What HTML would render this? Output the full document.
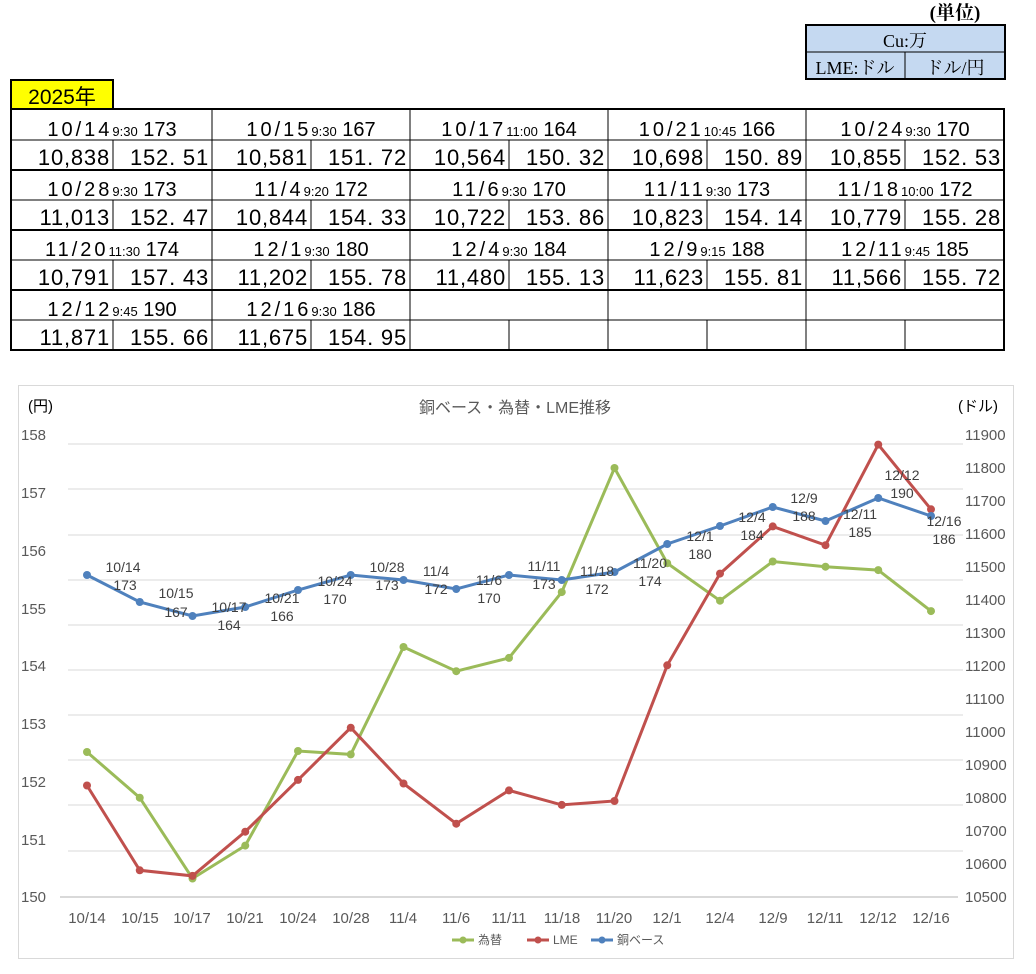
<!DOCTYPE html>
<html><head><meta charset="utf-8"><style>
body{margin:0;background:#fff;width:1036px;height:974px;overflow:hidden;position:relative;font-family:"Liberation Sans","Noto Sans CJK JP",sans-serif}
</style></head><body>
<svg width="1036" height="974" style="position:absolute;left:0;top:0" font-family="Liberation Sans, Noto Sans CJK JP, sans-serif">
<text x="955" y="19" font-size="19" text-anchor="middle" font-family="Liberation Serif, Noto Serif CJK JP, serif" font-weight="bold">(単位)</text>
<rect x="806" y="25" width="199" height="54" fill="#c5d9f1" stroke="#000" stroke-width="2"/>
<line x1="806" y1="52" x2="1005" y2="52" stroke="#000"/>
<line x1="905" y1="52" x2="905" y2="79" stroke="#000"/>
<g font-family="Liberation Serif, Noto Serif CJK JP, serif" font-size="18" text-anchor="middle">
<text x="905" y="47">Cu:万</text><text x="855" y="74">LME:ドル</text><text x="955" y="74">ドル/円</text></g>
<rect x="11" y="80" width="102" height="29" fill="#ffff00" stroke="#000" stroke-width="2"/>
<text x="62" y="104" font-size="21" text-anchor="middle">2025年</text>
<rect x="11" y="109" width="993" height="241" fill="none" stroke="#000" stroke-width="2"/>
<g stroke="#000">
<line x1="11" y1="140" x2="1004" y2="140"/><line x1="11" y1="170" x2="1004" y2="170" stroke-width="2"/>
<line x1="11" y1="200" x2="1004" y2="200"/><line x1="11" y1="230" x2="1004" y2="230" stroke-width="2"/>
<line x1="11" y1="260" x2="1004" y2="260"/><line x1="11" y1="290" x2="1004" y2="290" stroke-width="2"/>
<line x1="11" y1="320" x2="1004" y2="320"/>
<line x1="212" y1="109" x2="212" y2="350"/><line x1="410" y1="109" x2="410" y2="350"/><line x1="608" y1="109" x2="608" y2="350"/><line x1="806" y1="109" x2="806" y2="350"/>
<line x1="113" y1="140" x2="113" y2="170"/><line x1="113" y1="200" x2="113" y2="230"/><line x1="113" y1="260" x2="113" y2="290"/><line x1="113" y1="320" x2="113" y2="350"/>
<line x1="311" y1="140" x2="311" y2="170"/><line x1="311" y1="200" x2="311" y2="230"/><line x1="311" y1="260" x2="311" y2="290"/><line x1="311" y1="320" x2="311" y2="350"/>
<line x1="509" y1="140" x2="509" y2="170"/><line x1="509" y1="200" x2="509" y2="230"/><line x1="509" y1="260" x2="509" y2="290"/><line x1="509" y1="320" x2="509" y2="350"/>
<line x1="707" y1="140" x2="707" y2="170"/><line x1="707" y1="200" x2="707" y2="230"/><line x1="707" y1="260" x2="707" y2="290"/><line x1="707" y1="320" x2="707" y2="350"/>
<line x1="905" y1="140" x2="905" y2="170"/><line x1="905" y1="200" x2="905" y2="230"/><line x1="905" y1="260" x2="905" y2="290"/><line x1="905" y1="320" x2="905" y2="350"/>
</g>
<g font-size="20" text-anchor="middle">
<text x="112" y="136"><tspan letter-spacing="3">10/14</tspan><tspan font-size="13">9:30</tspan> 173</text>
<text x="311" y="136"><tspan letter-spacing="3">10/15</tspan><tspan font-size="13">9:30</tspan> 167</text>
<text x="509" y="136"><tspan letter-spacing="3">10/17</tspan><tspan font-size="13">11:00</tspan> 164</text>
<text x="707" y="136"><tspan letter-spacing="3">10/21</tspan><tspan font-size="13">10:45</tspan> 166</text>
<text x="905" y="136"><tspan letter-spacing="3">10/24</tspan><tspan font-size="13">9:30</tspan> 170</text>
<text x="112" y="196"><tspan letter-spacing="3">10/28</tspan><tspan font-size="13">9:30</tspan> 173</text>
<text x="311" y="196"><tspan letter-spacing="3">11/4</tspan><tspan font-size="13">9:20</tspan> 172</text>
<text x="509" y="196"><tspan letter-spacing="3">11/6</tspan><tspan font-size="13">9:30</tspan> 170</text>
<text x="707" y="196"><tspan letter-spacing="3">11/11</tspan><tspan font-size="13">9:30</tspan> 173</text>
<text x="905" y="196"><tspan letter-spacing="3">11/18</tspan><tspan font-size="13">10:00</tspan> 172</text>
<text x="112" y="256"><tspan letter-spacing="3">11/20</tspan><tspan font-size="13">11:30</tspan> 174</text>
<text x="311" y="256"><tspan letter-spacing="3">12/1</tspan><tspan font-size="13">9:30</tspan> 180</text>
<text x="509" y="256"><tspan letter-spacing="3">12/4</tspan><tspan font-size="13">9:30</tspan> 184</text>
<text x="707" y="256"><tspan letter-spacing="3">12/9</tspan><tspan font-size="13">9:15</tspan> 188</text>
<text x="905" y="256"><tspan letter-spacing="3">12/11</tspan><tspan font-size="13">9:45</tspan> 185</text>
<text x="112" y="316"><tspan letter-spacing="3">12/12</tspan><tspan font-size="13">9:45</tspan> 190</text>
<text x="311" y="316"><tspan letter-spacing="3">12/16</tspan><tspan font-size="13">9:30</tspan> 186</text>
</g>
<g font-size="22" text-anchor="end" letter-spacing="0.8">
<text x="110" y="165">10,838</text><text x="209" y="165">152. 51</text><text x="308" y="165">10,581</text><text x="407" y="165">151. 72</text><text x="506" y="165">10,564</text><text x="605" y="165">150. 32</text><text x="704" y="165">10,698</text><text x="803" y="165">150. 89</text><text x="902" y="165">10,855</text><text x="1001" y="165">152. 53</text>
<text x="110" y="225">11,013</text><text x="209" y="225">152. 47</text><text x="308" y="225">10,844</text><text x="407" y="225">154. 33</text><text x="506" y="225">10,722</text><text x="605" y="225">153. 86</text><text x="704" y="225">10,823</text><text x="803" y="225">154. 14</text><text x="902" y="225">10,779</text><text x="1001" y="225">155. 28</text>
<text x="110" y="285">10,791</text><text x="209" y="285">157. 43</text><text x="308" y="285">11,202</text><text x="407" y="285">155. 78</text><text x="506" y="285">11,480</text><text x="605" y="285">155. 13</text><text x="704" y="285">11,623</text><text x="803" y="285">155. 81</text><text x="902" y="285">11,566</text><text x="1001" y="285">155. 72</text>
<text x="110" y="345">11,871</text><text x="209" y="345">155. 66</text><text x="308" y="345">11,675</text><text x="407" y="345">154. 95</text>
</g>
<rect x="18.5" y="385.5" width="995" height="573" fill="#fff" stroke="#d9d9d9"/>
<g stroke="#d9d9d9" stroke-width="1">
<line x1="68" y1="444" x2="963" y2="444"/><line x1="68" y1="489" x2="963" y2="489"/><line x1="68" y1="535" x2="963" y2="535"/><line x1="68" y1="580" x2="963" y2="580"/><line x1="68" y1="625" x2="963" y2="625"/><line x1="68" y1="670" x2="963" y2="670"/><line x1="68" y1="715" x2="963" y2="715"/><line x1="68" y1="760" x2="963" y2="760"/><line x1="68" y1="805" x2="963" y2="805"/><line x1="68" y1="851" x2="963" y2="851"/>
<line x1="60" y1="897" x2="958" y2="897" stroke-width="2"/>
</g>
<text x="515" y="413" font-size="16" fill="#595959" text-anchor="middle">銅ベース・為替・LME推移</text>
<text x="28" y="411" font-size="15" fill="#000">(円)</text>
<text x="958" y="411" font-size="15" fill="#000">(ドル)</text>
<g font-size="15" fill="#595959">
<text x="21" y="440">158</text><text x="21" y="498">157</text><text x="21" y="556">156</text><text x="21" y="614">155</text><text x="21" y="671">154</text><text x="21" y="729">153</text><text x="21" y="787">152</text><text x="21" y="845">151</text><text x="21" y="902">150</text>
<text x="965" y="440">11900</text><text x="965" y="473">11800</text><text x="965" y="506">11700</text><text x="965" y="539">11600</text><text x="965" y="572">11500</text><text x="965" y="605">11400</text><text x="965" y="638">11300</text><text x="965" y="671">11200</text><text x="965" y="704">11100</text><text x="965" y="737">11000</text><text x="965" y="770">10900</text><text x="965" y="803">10800</text><text x="965" y="836">10700</text><text x="965" y="869">10600</text><text x="965" y="902">10500</text>
</g>
<g font-size="15" fill="#595959" text-anchor="middle">
<text x="87" y="923">10/14</text><text x="140" y="923">10/15</text><text x="192" y="923">10/17</text><text x="245" y="923">10/21</text><text x="298" y="923">10/24</text><text x="351" y="923">10/28</text><text x="403" y="923">11/4</text><text x="456" y="923">11/6</text><text x="509" y="923">11/11</text><text x="562" y="923">11/18</text><text x="614" y="923">11/20</text><text x="667" y="923">12/1</text><text x="720" y="923">12/4</text><text x="773" y="923">12/9</text><text x="825" y="923">12/11</text><text x="878" y="923">12/12</text><text x="931" y="923">12/16</text>
</g>
<polyline fill="none" stroke="#9bbb59" stroke-width="3" points="87,752 139.75,797.7 192.5,878.5 245.25,845.6 298,751 350.75,754.4 403.5,647 456.25,671.2 509,657.9 561.75,592.1 614.5,468 667.25,563.2 720,600.7 772.75,561.5 825.5,566.7 878.25,570.1 931,611.1"/>
<g fill="#9bbb59"><circle cx="87" cy="752" r="4"/><circle cx="139.75" cy="797.7" r="4"/><circle cx="192.5" cy="878.5" r="4"/><circle cx="245.25" cy="845.6" r="4"/><circle cx="298" cy="751" r="4"/><circle cx="350.75" cy="754.4" r="4"/><circle cx="403.5" cy="647" r="4"/><circle cx="456.25" cy="671.2" r="4"/><circle cx="509" cy="657.9" r="4"/><circle cx="561.75" cy="592.1" r="4"/><circle cx="614.5" cy="468" r="4"/><circle cx="667.25" cy="563.2" r="4"/><circle cx="720" cy="600.7" r="4"/><circle cx="772.75" cy="561.5" r="4"/><circle cx="825.5" cy="566.7" r="4"/><circle cx="878.25" cy="570.1" r="4"/><circle cx="931" cy="611.1" r="4"/></g>
<polyline fill="none" stroke="#c0504d" stroke-width="3" points="87,785.5 139.75,870.3 192.5,875.9 245.25,831.7 298,779.9 350.75,727.7 403.5,783.5 456.25,823.7 509,790.4 561.75,804.9 614.5,801 667.25,665.3 720,573.6 772.75,526.4 825.5,545.2 878.25,444.6 931,509.3"/>
<g fill="#c0504d"><circle cx="87" cy="785.5" r="4"/><circle cx="139.75" cy="870.3" r="4"/><circle cx="192.5" cy="875.9" r="4"/><circle cx="245.25" cy="831.7" r="4"/><circle cx="298" cy="779.9" r="4"/><circle cx="350.75" cy="727.7" r="4"/><circle cx="403.5" cy="783.5" r="4"/><circle cx="456.25" cy="823.7" r="4"/><circle cx="509" cy="790.4" r="4"/><circle cx="561.75" cy="804.9" r="4"/><circle cx="614.5" cy="801" r="4"/><circle cx="667.25" cy="665.3" r="4"/><circle cx="720" cy="573.6" r="4"/><circle cx="772.75" cy="526.4" r="4"/><circle cx="825.5" cy="545.2" r="4"/><circle cx="878.25" cy="444.6" r="4"/><circle cx="931" cy="509.3" r="4"/></g>
<polyline fill="none" stroke="#4f81bd" stroke-width="3" points="87,575 139.75,602 192.5,616 245.25,607 298,590 350.75,575 403.5,580 456.25,589 509,575 561.75,580 614.5,572 667.25,544 720,526 772.75,507 825.5,521 878.25,498 931,516"/>
<g fill="#4f81bd"><circle cx="87" cy="575" r="4"/><circle cx="139.75" cy="602" r="4"/><circle cx="192.5" cy="616" r="4"/><circle cx="245.25" cy="607" r="4"/><circle cx="298" cy="590" r="4"/><circle cx="350.75" cy="575" r="4"/><circle cx="403.5" cy="580" r="4"/><circle cx="456.25" cy="589" r="4"/><circle cx="509" cy="575" r="4"/><circle cx="561.75" cy="580" r="4"/><circle cx="614.5" cy="572" r="4"/><circle cx="667.25" cy="544" r="4"/><circle cx="720" cy="526" r="4"/><circle cx="772.75" cy="507" r="4"/><circle cx="825.5" cy="521" r="4"/><circle cx="878.25" cy="498" r="4"/><circle cx="931" cy="516" r="4"/></g>
<g font-size="14" fill="#404040" text-anchor="middle">
<text x="123" y="572">10/14</text><text x="125" y="590">173</text>
<text x="176" y="598">10/15</text><text x="176" y="617">167</text>
<text x="229" y="612">10/17</text><text x="229" y="630">164</text>
<text x="282" y="603">10/21</text><text x="282" y="621">166</text>
<text x="335" y="586">10/24</text><text x="335" y="604">170</text>
<text x="387" y="572">10/28</text><text x="387" y="590">173</text>
<text x="436" y="576">11/4</text><text x="436" y="594">172</text>
<text x="489" y="585">11/6</text><text x="489" y="603">170</text>
<text x="544" y="571">11/11</text><text x="544" y="589">173</text>
<text x="597" y="576">11/18</text><text x="597" y="594">172</text>
<text x="650" y="568">11/20</text><text x="650" y="586">174</text>
<text x="700" y="541">12/1</text><text x="700" y="559">180</text>
<text x="752" y="522">12/4</text><text x="752" y="540">184</text>
<text x="804" y="503">12/9</text><text x="804" y="521">188</text>
<text x="860" y="519">12/11</text><text x="860" y="537">185</text>
<text x="902" y="480">12/12</text><text x="902" y="498">190</text>
<text x="944" y="526">12/16</text><text x="944" y="544">186</text>
</g>
<g font-size="12" fill="#595959">
<line x1="452" y1="940" x2="474" y2="940" stroke="#9bbb59" stroke-width="3"/><circle cx="463" cy="940" r="3.5" fill="#9bbb59"/><text x="478" y="944">為替</text>
<line x1="527" y1="940" x2="549" y2="940" stroke="#c0504d" stroke-width="3"/><circle cx="538" cy="940" r="3.5" fill="#c0504d"/><text x="553" y="944">LME</text>
<line x1="591" y1="940" x2="613" y2="940" stroke="#4f81bd" stroke-width="3"/><circle cx="602" cy="940" r="3.5" fill="#4f81bd"/><text x="617" y="944">銅ベース</text>
</g>
</svg>
</body></html>
